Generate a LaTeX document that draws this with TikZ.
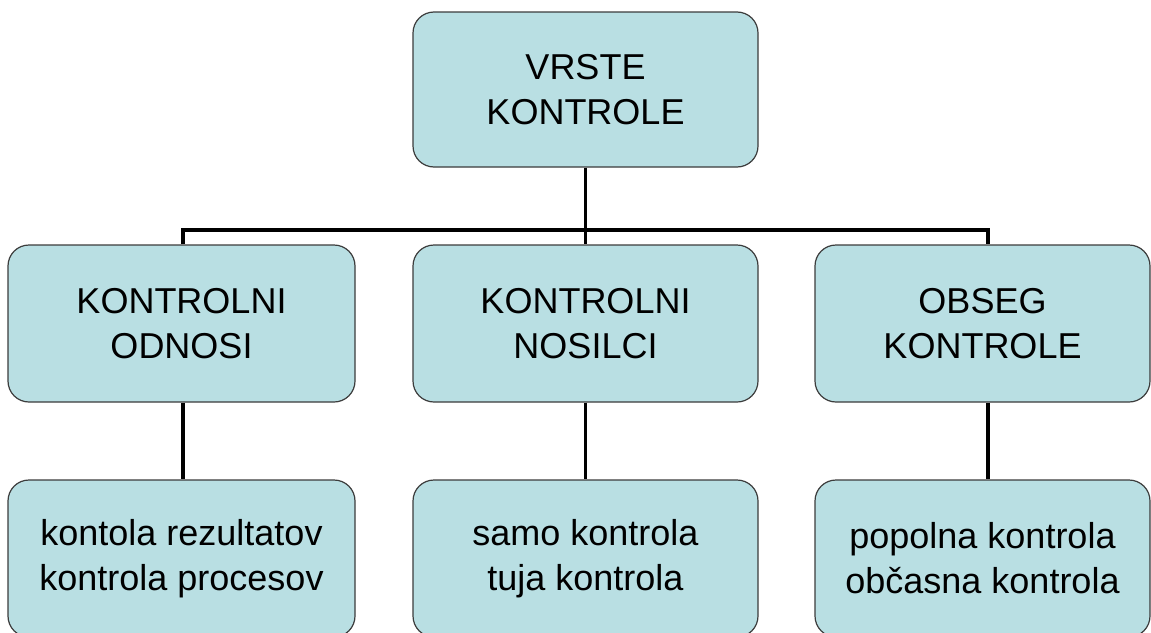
\documentclass[tikz,border=0pt]{standalone}
\usepackage{fontspec}
\setmainfont{Liberation Sans}
\definecolor{boxfill}{RGB}{185,223,227}
\definecolor{boxline}{RGB}{60,60,60}
\begin{document}
\begin{tikzpicture}[x=1pt,y=-1pt,
  box/.style={draw=boxline, line width=1.2pt, fill=boxfill, rounded corners=21pt,
    inner sep=0pt, align=center, font=\fontsize{36pt}{45pt}\selectfont},
  conn/.style={draw=black, line width=3.6pt}]
\useasboundingbox (0,0) rectangle (1151,632);
\fill[white] (0,0) rectangle (1151,632);
% top
\node[box, minimum width=345pt, minimum height=155pt] (top) at (585.5,89.5) {VRSTE\\KONTROLE};
% level 2
\node[box, minimum width=347pt, minimum height=157pt] (l1) at (181.5,323.5) {KONTROLNI\\ODNOSI};
\node[box, minimum width=345pt, minimum height=157pt] (m1) at (585.5,323.5) {KONTROLNI\\NOSILCI};
\node[box, minimum width=335pt, minimum height=157pt] (r1) at (982.5,323.5) {OBSEG\\KONTROLE};
% level 3
\node[box, minimum width=347pt, minimum height=157pt] (l2) at (181.5,558.5) {kontola rezultatov\\kontrola procesov};
\node[box, minimum width=345pt, minimum height=157pt] (m2) at (585.5,558.5) {samo kontrola\\tuja kontrola};
\node[box, minimum width=335pt, minimum height=157pt] (r2) at (982.5,558.5) {popolna kontrola\\občasna kontrola};
% connectors
\coordinate (bus) at (585.5,230);
\coordinate (lx) at (183,0);
\coordinate (rx) at (988,0);
\draw[conn] (top.south) -- (m1.north);
\draw[conn] (lx |- l1.north) -- (lx |- bus) -- (rx |- bus) -- (rx |- r1.north);
\draw[conn] (lx |- l1.south) -- (lx |- l2.north);
\draw[conn] (m1.south) -- (m2.north);
\draw[conn] (rx |- r1.south) -- (rx |- r2.north);
\end{tikzpicture}
\end{document}
